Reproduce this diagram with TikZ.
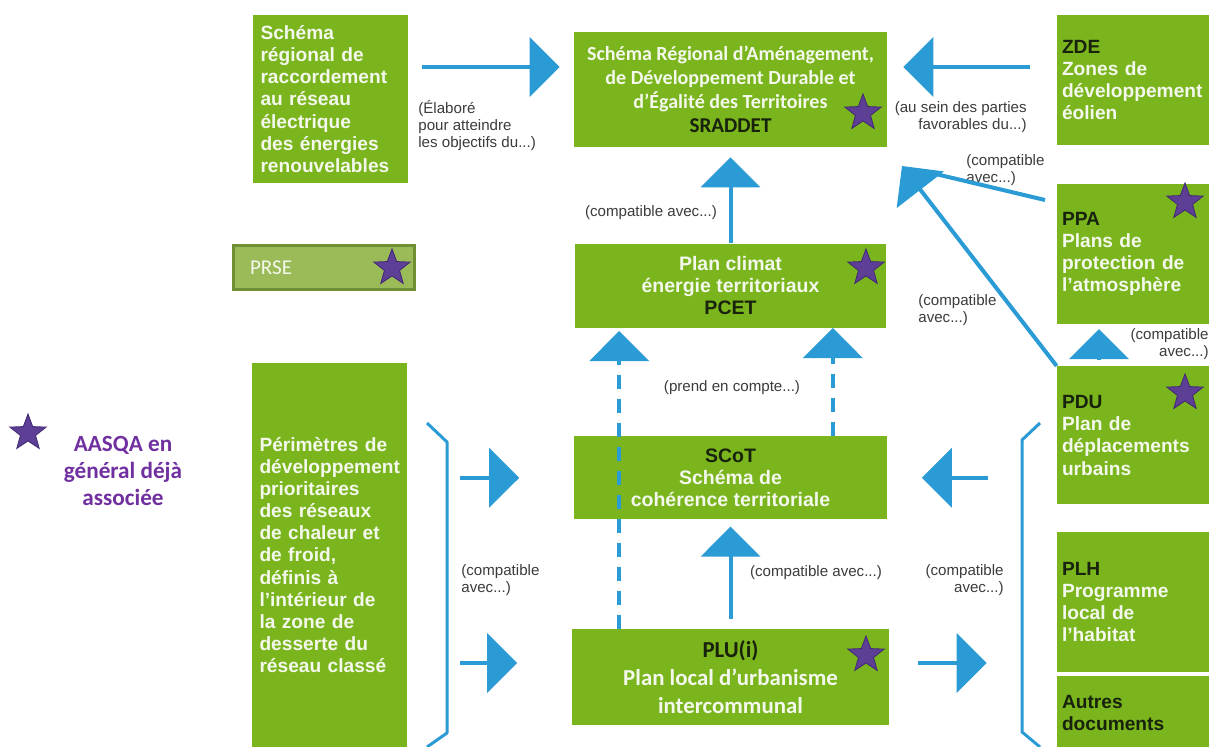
\documentclass[tikz,border=0pt]{standalone}
\usepackage{fontspec}
\setmainfont{Liberation Sans}
\setsansfont{Liberation Sans}
\newfontfamily\calibfont{Carlito}
\usepackage{tikz}
\usetikzlibrary{shapes.geometric, arrows.meta, positioning, calc}
\definecolor{leaf}{HTML}{7AB51D}
\definecolor{leafpale}{HTML}{9BBB59}
\definecolor{leafdark}{HTML}{6F8F35}
\definecolor{flow}{HTML}{2B9BD6}
\definecolor{violet}{HTML}{5E3F96}
\definecolor{violetdark}{HTML}{432A75}
\definecolor{legendtxt}{HTML}{7030A0}
\definecolor{notegray}{HTML}{3C3C3C}
\definecolor{ink}{HTML}{18220C}
\definecolor{paper}{HTML}{F4F8EC}

\begin{document}
\begin{tikzpicture}[
  x=0.02cm, y=-0.02cm,
  box/.style={rectangle, fill=leaf, inner ysep=0pt, text=paper, font=\bfseries\fontsize{10.9}{12.6}\selectfont},
  sidebox/.style={box, align=left, inner xsep=0.15cm, text width=2.80cm},
  colbox/.style={box, align=left, inner xsep=0.1cm, text width=2.84cm},
  midbox/.style={box, align=center, inner xsep=0pt, font=\bfseries\fontsize{11.1}{12.6}\selectfont},
  calbox/.style={midbox, font=\calibfont\bfseries\fontsize{11.4}{13.6}\selectfont},
  arr/.style={-{Triangle[width=1.18cm, length=0.6cm]}, line width=0.08cm, flow},
  dasharr/.style={arr, dash pattern=on 0.28cm off 0.2cm},
  bracket/.style={flow, line width=0.06cm, line join=round},
  lbl/.style={font=\fontsize{8.6}{9.8}\selectfont, text=notegray, inner sep=0pt},
  star5/.style={star, star points=5, star point ratio=2.4, minimum size=0.76cm, inner sep=0pt, fill=violet, draw=violetdark, line width=0.5pt},
]

\path[use as bounding box, fill=white] (0,0) rectangle (1211,747);

\node[sidebox, minimum width=3.10cm, minimum height=3.36cm] (srrer) at (330.5,99)
  {Schéma\\régional de\\raccordement\\au réseau\\électrique\\des énergies\\renouvelables};
\node[calbox, minimum width=6.26cm, minimum height=2.30cm] (sraddet) at (730.5,89.5)
  {Schéma Régional d’Aménagement,\\de Développement Durable et\\d’Égalité des Territoires\\{\color{ink}\fontsize{12}{14}\selectfont SRADDET}};
\node[midbox, minimum width=6.22cm, minimum height=1.68cm, below=1.92cm of sraddet] (pcet)
  {Plan climat\\énergie territoriaux\\{\color{ink}PCET}};
\node[midbox, minimum width=6.28cm, minimum height=1.66cm, below=2.16cm of pcet] (scot)
  {{\color{ink}SCoT}\\Schéma de\\cohérence territoriale};
\node[calbox, minimum width=6.36cm, minimum height=1.92cm, below=2.18cm of scot,
  font=\calibfont\bfseries\fontsize{13}{16}\selectfont] (plu)
  {{\color{ink}PLU(i)}\\Plan local d’urbanisme\\intercommunal};

\node[colbox, minimum width=3.04cm, minimum height=2.60cm] (zde) at (1133,80)
  {{\color{ink}ZDE}\\Zones de\\développement\\éolien};
\node[colbox, minimum width=3.04cm, minimum height=2.80cm, below=0.76cm of zde] (ppa)
  {{\color{ink}PPA}\\Plans de\\protection de\\l’atmosphère};
\node[colbox, minimum width=3.04cm, minimum height=2.76cm, below=0.84cm of ppa] (pdu)
  {{\color{ink}PDU}\\Plan de\\déplacements\\urbains};
\node[colbox, minimum width=3.04cm, minimum height=2.80cm, below=0.54cm of pdu] (plh)
  {{\color{ink}PLH}\\Programme\\local de\\l'habitat};
\node[colbox, minimum width=3.04cm, minimum height=1.48cm, below=0.06cm of plh] (autres)
  {{\color{ink}Autres\\documents}};

\node[box, draw=leafdark, fill=leafpale, line width=0.06cm, align=left, inner xsep=0.34cm,
  text width=2.96cm, minimum height=0.9cm, font=\calibfont\fontsize{12}{14}\selectfont] (prse) at (324,267.5) {PRSE};
\node[sidebox, minimum width=3.10cm, minimum height=7.68cm] (perim) at (329.5,555)
  {Périmètres de\\développement\\prioritaires\\des réseaux\\de chaleur et\\de froid,\\définis à\\l’intérieur de\\la zone de\\desserte du\\réseau classé};

\node[star5] (starsrad) at (863,113) {};
\node[star5] (starpcet) at (866,268) {};
\node[star5] (starprse) at (392,268) {};
\node[star5] (starppa) at (1185,202) {};
\node[star5] (starpdu) at (1185,393) {};
\node[star5] (starplu) at (866,655) {};
\node[star5] (starleg) at (28,433) {};
\node[font=\calibfont\bfseries\fontsize{13.2}{15.2}\selectfont, text=legendtxt, align=center] (legend) at (123,471)
  {AASQA en\\général déjà\\associée};

\node[lbl, anchor=north west, align=left] (lblelab) at (418,100) {(Élaboré\\pour atteindre\\les objectifs du...)};
\node[lbl, anchor=north east, align=right] (lblsein) at (1027,101) {(au sein des parties\\favorables du...)};
\node[lbl, anchor=north west, align=left] (lblppa) at (966,154) {(compatible\\avec...)};
\node[lbl] (lblpcet) at (651,213) {(compatible avec...)};
\node[lbl, anchor=north west, align=left] (lblpdu) at (918,294) {(compatible\\avec...)};
\node[lbl, anchor=north east, align=right] (lblpduppa) at (1209,328) {(compatible\\avec...)};
\node[lbl] (lblprend) at (732,388) {(prend en compte...)};
\node[lbl] (lblplu) at (816,573) {(compatible avec...)};
\node[lbl, anchor=north west, align=left] (lblleft) at (461,564) {(compatible\\avec...)};
\node[lbl, anchor=north east, align=right] (lblright) at (1004,564) {(compatible\\avec...)};

\coordinate (rowA) at (0,67);
\coordinate (rowB) at (0,663);
\coordinate (tipD) at (902,166);
\coordinate (ppaOut) at (1045,200);
\coordinate (dashL) at ($(plu.north west)+(48,0)$);
\coordinate (dashR) at ($(scot.north east)+(-55,0)$);

\draw[arr, shorten <=0.28cm, shorten >=0.28cm] (srrer.east |- rowA) -- (sraddet.west |- rowA);
\draw[arr, shorten <=0.54cm, shorten >=0.32cm] (zde.west |- rowA) -- (sraddet.east |- rowA);
\draw[arr, shorten >=0.2cm] (pcet.north) -- (pcet.north |- sraddet.south);
\draw[flow, line width=0.08cm, shorten >=0.6cm] (ppaOut) -- (tipD);
\draw[arr] (pdu.north west) -- (tipD);
\draw[arr, shorten <=0.12cm, shorten >=0.1cm] ([xshift=-0.68cm]pdu.north) -- ([xshift=-0.68cm]ppa.south);
\draw[dasharr, shorten >=0.06cm] (dashL) -- (dashL |- pcet.south);
\draw[dasharr] (dashR) -- (dashR |- pcet.south);
\draw[arr, shorten <=0.2cm, shorten >=0.14cm] (plu.north) -- (plu.north |- scot.south);

\draw[bracket] (427,423) -- (447,442) -- (447,733) -- (427,747);
\draw[bracket] (1040,423) -- (1022,440) -- (1022,732) -- (1040,747);
\draw[arr, shorten <=1.06cm, shorten >=1.08cm] (perim.east |- scot.west) -- (scot.west);
\draw[arr, shorten <=1.06cm, shorten >=1.08cm] (perim.east |- rowB) -- (plu.west |- rowB);
\draw[arr, shorten <=1.38cm, shorten >=0.68cm] (pdu.west |- scot.east) -- (scot.east);
\draw[arr, shorten <=0.56cm, shorten >=1.4cm] (plu.east |- rowB) -- (plh.west |- rowB);

\end{tikzpicture}
\end{document}
